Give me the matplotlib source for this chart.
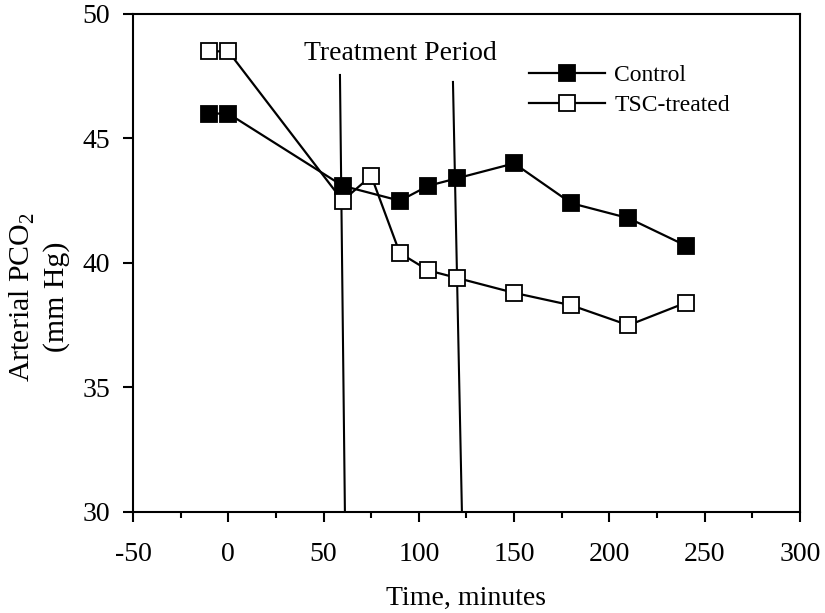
import matplotlib.pyplot as plt
from matplotlib.ticker import MultipleLocator

plt.rcParams["font.family"] = ["Liberation Serif", "DejaVu Serif"]
plt.rcParams["mathtext.fontset"] = "custom"
plt.rcParams["mathtext.rm"] = "Liberation Serif"
plt.rcParams["axes.unicode_minus"] = False

# data
control_t = [-10, 0, 60, 90, 105, 120, 150, 180, 210, 240]
control_pco2 = [46.0, 46.0, 43.1, 42.5, 43.1, 43.4, 44.0, 42.4, 41.8, 40.7]

tsc_t = [-10, 0, 60, 75, 90, 105, 120, 150, 180, 210, 240]
tsc_pco2 = [48.5, 48.5, 42.5, 43.5, 40.4, 39.7, 39.4, 38.8, 38.3, 37.5, 38.4]

# treatment period markers (hand drawn, slightly slanted)
start_line_t = [58.6, 61.2]
start_line_y = [47.55, 30.0]
end_line_t = [117.9, 122.6]
end_line_y = [47.27, 30.0]

fig = plt.figure(figsize=(8.25, 6.13), dpi=100)
ax = fig.add_axes([0.1612, 0.1648, 0.8085, 0.8124])

ax.plot(start_line_t, start_line_y, color="black", linewidth=1.5, zorder=1)
ax.plot(end_line_t, end_line_y, color="black", linewidth=1.5, zorder=1)

ax.plot(
    tsc_t,
    tsc_pco2,
    color="black",
    linewidth=1.6,
    marker="s",
    markersize=11.5,
    markerfacecolor="white",
    markeredgecolor="black",
    markeredgewidth=1.3,
    label="TSC-treated",
    zorder=3,
)
ax.plot(
    control_t,
    control_pco2,
    color="black",
    linewidth=1.6,
    marker="s",
    markersize=11.5,
    markerfacecolor="black",
    markeredgecolor="black",
    markeredgewidth=1.3,
    label="Control",
    zorder=4,
)

ax.text(90.5, 47.9, "Treatment Period", fontsize=20, ha="center", va="bottom")

ax.set_xlim(-50, 300)
ax.set_ylim(30, 50)
ax.xaxis.set_major_locator(MultipleLocator(50))
ax.xaxis.set_minor_locator(MultipleLocator(25))
ax.yaxis.set_major_locator(MultipleLocator(5))
ax.tick_params(axis="both", which="major", direction="out", length=7.5, width=1.5,
               labelsize=20)
ax.tick_params(axis="x", which="major", pad=14)
ax.tick_params(axis="y", which="major", pad=9)
ax.tick_params(axis="x", which="minor", direction="out", length=4, width=1.5)
for s in ax.spines.values():
    s.set_linewidth(1.5)

ax.set_xlabel("Time, minutes", fontsize=20, labelpad=14)
ax.set_ylabel("Arterial PCO$_2$\n(mm Hg)", fontsize=21.5, linespacing=1.3)
ax.yaxis.set_label_coords(-0.095, 0.432)

handles, labels = ax.get_legend_handles_labels()
ax.legend(
    handles[::-1],
    labels[::-1],
    loc="upper left",
    bbox_to_anchor=(0.594, 0.898),
    frameon=False,
    fontsize=17,
    handlelength=3.2,
    handletextpad=0.4,
    borderpad=0,
    borderaxespad=0,
    labelspacing=0.35,
)

fig.savefig("out.png", dpi=100)
